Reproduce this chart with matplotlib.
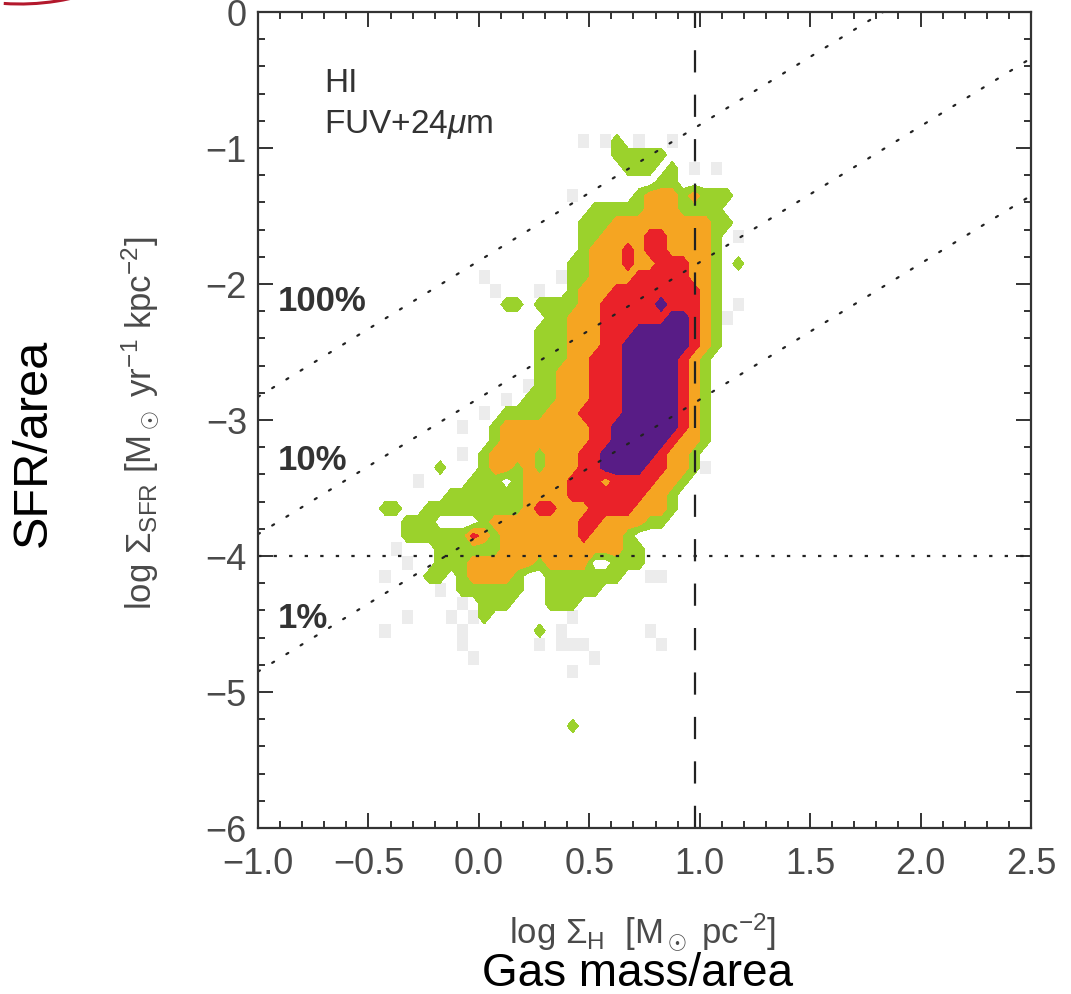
"""Star formation law panel: SFR surface density vs HI surface density.
"""

import numpy as np
import matplotlib
matplotlib.use('Agg')
from matplotlib import pyplot as plt
from matplotlib.colors import ListedColormap
from matplotlib.ticker import MultipleLocator
from matplotlib.patches import Arc

plt.rcParams['font.family'] = ['Liberation Sans', 'DejaVu Sans']
plt.rcParams['mathtext.fontset'] = 'custom'
plt.rcParams['mathtext.rm'] = 'Liberation Sans'
plt.rcParams['mathtext.it'] = 'Liberation Sans:italic'
plt.rcParams['mathtext.bf'] = 'Liberation Sans:bold'

# Binned density of pixels. One string per row of
# 0.1 dex in log SFR (top row first), one char per 0.05 dex in log gas.
# '.' empty, '0' sparse (grey), '1'..'4' green / orange / red / purple
grid_x0, grid_dx = -0.5, 0.05
grid_y0, grid_dy = -0.9, 0.1
density_rows = [
    "..... ..... ..... ....0 .01.0 ..0.. ..... .",
    "..... ..... ..... ..... ..111 11... ..... .",
    "..... ..... ..... ..... ...11 1.1.0 .0... .",
    "..... ..... ..... ..... ..... .11.. ..... .",
    "..... ..... ..... ...0. ....1 22212 111.. .",
    "..... ..... ..... ..... 11111 22211 11... .",
    "..... ..... ..... ....1 11222 22222 211.. .",
    "..... ..... ..... ....1 12222 33222 21.0. .",
    "..... ..... ..... ....1 22232 33222 21... .",
    "..... ..... ..... ...11 22232 23332 21.1. .",
    "..... ..... 0.... ..011 22223 33332 21... .",
    "..... ..... .0... 0..12 22333 33333 21... .",
    "..... ..... ..11. 11112 23333 34333 21.0. .",
    "..... ..... ..... .1122 23333 33443 210.. .",
    "..... ..... ..... 11122 23334 44443 21... .",
    "..... ..... ..... 11122 23344 44443 21... .",
    "..... ..... ..... 11122 33344 44432 1.... .",
    "..... ..... ..... 11222 33344 44432 1.... .",
    "..... ..... ....0 11222 33344 44432 1.... .",
    "..... ..... ..0.1 11222 33344 44432 1.... .",
    "..... ..... 0.111 12223 33344 44432 1.... .",
    "..... ...0. .1222 22222 33444 44432 1.... .",
    "..... ..... .1222 22222 33444 44322 1.... .",
    "..... ...0. 12222 12223 34444 43221 ..... .",
    "..... .1... 12212 12223 34444 33221 0.... .",
    "....0 ....1 11.12 22233 32333 3221. ..... .",
    "..... ..111 11112 22233 33333 221.. ..... .",
    ".11.. 11111 11112 33222 33332 221.. ..... .",
    "...11 1.... 12222 22223 32222 11... ..... .",
    "...11 11113 21222 22223 2221. ..... ..... .",
    "..0.. .1111 11222 22222 22211 ..... ..... .",
    "...0. .1112 22222 12222 ..111 ..... ..... .",
    ".0... 11.12 2221. .1111 111.. 00... ..... .",
    "..... .0.11 1111. .1111 1.... ..... ..... .",
    "..... ...0. 111.. .111. ..... ..... ..... .",
    "...0. ..0.0 1.... ...0. ..... ..... ..... .",
    ".0... ...0. ..... 1.0.. ..... 0.... ..... .",
    "..... ...0. ..... 0.000 ..... .0... ..... .",
    "..... ....0 ..... ..... 0.... ..... ..... .",
    "..... ..... ..... ...0. ..... ..... ..... .",
    "..... ..... ..... ..... ..... ..... ..... .",
    "..... ..... ..... ..... ..... ..... ..... .",
    "..... ..... ..... ..... ..... ..... ..... .",
    "..... ..... ..... ...1. ..... ..... ..... .",
]
level_colors = ['#9bd22c', '#f5a522', '#ea2229', '#581c86']
sparse_color = '#ececec'

# Lines of constant star formation efficiency (per 10^8 yr): y = x + offset
efficiency_labels = ['100%', '10%', '1%']
efficiency_offsets = [-1.83, -2.84, -3.85]
efficiency_label_y = [-2.12, -3.29, -4.45]
sfr_threshold = -4.0
gas_saturation = 0.98

# --- build the grid ---------------------------------------------------------
rows = [r.replace(' ', '') for r in density_rows]
chars = np.array([list(r) for r in rows])
sparse = chars == '0'
values = np.where(np.isin(chars, ['1', '2', '3', '4']), chars, '0').astype(float)
n_rows, n_cols = values.shape

x_edges = grid_x0 + grid_dx*np.arange(n_cols + 1)
y_edges = grid_y0 - grid_dy*np.arange(n_rows + 1)
x_cent = grid_x0 + grid_dx*(np.arange(-1, n_cols + 1) + 0.5)
y_cent = grid_y0 - grid_dy*(np.arange(-1, n_rows + 1) + 0.5)
values = np.pad(values, 1)

# --- plot -------------------------------------------------------------------
W, H = 1071, 995
fig = plt.figure(figsize=(W/100., H/100.), dpi=100)
ax = fig.add_axes([258./W, 166./H, 773./W, 816./H])

ax.pcolormesh(x_edges, y_edges,
              np.ma.masked_where(~sparse, sparse.astype(float)),
              cmap=ListedColormap([sparse_color]), zorder=0.5)
ax.contourf(x_cent, y_cent, values, levels=[0.5, 1.5, 2.5, 3.5, 4.5],
            colors=level_colors, zorder=1)

xs = np.array([-1.0, 2.5])
for off in efficiency_offsets:
    ax.plot(xs, xs + off, color='#222222', lw=1.6, ls=(0, (1, 6.5)),
            dash_capstyle='round', zorder=2)
ax.axhline(sfr_threshold, color='#222222', lw=1.6, ls=(0, (1.5, 5.5)),
           zorder=2)
ax.axvline(gas_saturation, color='#222222', lw=1.6, ls=(0, (10, 10)),
           zorder=2)

for lab, yy in zip(efficiency_labels, efficiency_label_y):
    ax.text(-0.91, yy, lab, fontsize=25, fontweight='bold', color='#333333',
            ha='left', va='center', zorder=3)

ax.text(-0.70, -0.52, 'HI', fontsize=24, color='#333333',
        ha='left', va='center')
ax.text(-0.70, -0.82, r'FUV+24$\mu$m', fontsize=24, color='#333333',
        ha='left', va='center')

ax.set_xlim(-1.0, 2.5)
ax.set_ylim(-6, 0)
ax.xaxis.set_major_locator(MultipleLocator(0.5))
ax.xaxis.set_minor_locator(MultipleLocator(0.1))
ax.yaxis.set_major_locator(MultipleLocator(1))
ax.yaxis.set_minor_locator(MultipleLocator(0.2))
ax.xaxis.set_major_formatter(plt.FuncFormatter(
    lambda v, p: '{:.1f}'.format(v).replace('-', '\u2212')))
ax.yaxis.set_major_formatter(plt.FuncFormatter(
    lambda v, p: '{:d}'.format(int(round(v))).replace('-', '\u2212')))

ax.tick_params(which='both', direction='in', top=True, right=True,
               color='#333333', width=1.4, labelcolor='#4a4a4a',
               labelsize=26)
ax.tick_params(which='major', length=11)
ax.tick_params(which='minor', length=5)
ax.tick_params(axis='x', pad=13)
ax.tick_params(axis='y', pad=8)
for sp in ax.spines.values():
    sp.set_color('#333333')
    sp.set_linewidth(1.6)

fig.text(140./W, 1 - 423./H,
         r'log $\Sigma_{\rm SFR}$ [M$_\odot$ yr$^{-1}$ kpc$^{-2}$]',
         rotation=90, ha='center', va='center', fontsize=25,
         color='#4a4a4a')
fig.text(643./W, 1 - 932./H,
         r'log $\Sigma_{\rm H}$  [M$_\odot$ pc$^{-2}$]',
         ha='center', va='center', fontsize=25, color='#4a4a4a')
fig.text(33./W, 1 - 443./H, 'SFR/area', rotation=90, ha='center',
         va='center', fontsize=35, color='black')
fig.text(638./W, 1 - 974./H, 'Gas mass/area', ha='center', va='center',
         fontsize=33, color='black')

# bit of a red circle peeking in at the top left corner
fig.add_artist(Arc((0.2, 12.23), 4.66, 4.66, theta1=266, theta2=292,
                   transform=fig.dpi_scale_trans, color='#b3182c', lw=2.2))

fig.savefig('out.png', dpi=100)
